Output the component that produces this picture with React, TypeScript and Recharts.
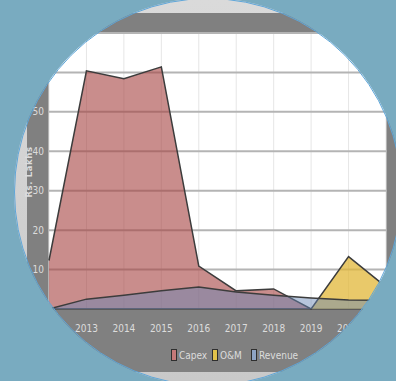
import React from 'react';
import { AreaChart, Area, XAxis, YAxis, CartesianGrid } from 'recharts';

const years = ['2012', '2013', '2014', '2015', '2016', '2017', '2018', '2019', '2020', '2021'];
const capex = [12.3, 60.4, 58.4, 61.4, 10.9, 4.6, 5.1, 0, 0, 0];
const oandm = [0, 0, 0, 0, 0, 0, 0, 0, 13.3, 5.6];
const revenue = [0, 2.5, 3.5, 4.6, 5.6, 4.3, 3.5, 2.8, 2.3, 2.2];
const yTicks = [0, 10, 20, 30, 40, 50, 60, 70];

const data = years.map((year, i) => ({
  year,
  capex: capex[i],
  oandm: oandm[i],
  revenue: revenue[i],
}));

const narrow = "'Liberation Sans Narrow', 'DejaVu Sans Condensed', sans-serif";
const lightText = '#dcdcdc';
const lineColor = '#3c3c3c';

const legendItems = [
  { name: 'Capex', color: '#c47878', left: 171 },
  { name: 'O&M', color: '#e2c24a', left: 212 },
  { name: 'Revenue', color: '#8ea4c4', left: 251 },
];

const ChartLegend = () => (
  <>
    {legendItems.map((item) => (
      <div
        key={item.name}
        style={{
          position: 'absolute',
          left: item.left,
          top: 349,
          display: 'flex',
          alignItems: 'center',
          fontFamily: narrow,
          fontSize: 10,
          color: lightText,
          whiteSpace: 'nowrap',
        }}
      >
        <span style={{ display: 'inline-block', width: 4, height: 10, background: item.color, border: '1px solid #2e2e2e', marginRight: 2 }} />
        <span>{item.name}</span>
      </div>
    ))}
  </>
);

const YLabel = () => (
  <text
    x={29}
    y={172}
    transform="rotate(-90 29 172)"
    textAnchor="middle"
    dominantBaseline="central"
    fill={lightText}
    fontSize={8.5}
    fontWeight="bold"
    letterSpacing={0.6}
    fontFamily="'DejaVu Sans', sans-serif"
  >
    Rs. Lakhs
  </text>
);

export default function App() {
  return (
    <div style={{ position: 'fixed', left: 0, top: 0, width: 396, height: 381, overflow: 'hidden', background: '#79abc0' }}>
      {/* picture frame behind the chart */}
      <div style={{ position: 'absolute', left: 0, top: 0, width: 396, height: 381, background: 'linear-gradient(#dadada, #c9c9c9)' }} />
      <div style={{ position: 'absolute', left: 27, top: 13, width: 380, height: 359, background: '#808080' }} />

      <AreaChart
        width={396}
        height={381}
        data={data}
        margin={{ top: 33, right: 10, left: 0, bottom: 42 }}
        style={{ position: 'absolute', left: 0, top: 0 }}
      >
        <CartesianGrid vertical={false} horizontal={false} fill="#ffffff" />
        <CartesianGrid horizontal={false} stroke="#e6e6e6" strokeWidth={1} />
        <CartesianGrid vertical={false} stroke="#b4b4b4" strokeWidth={2} />
        <XAxis
          dataKey="year"
          height={30}
          axisLine={false}
          tickLine={false}
          tickSize={0}
          tickMargin={16}
          interval={0}
          tick={{ fill: lightText, fontSize: 10, fontFamily: narrow }}
        />
        <YAxis
          domain={[0, 70]}
          ticks={yTicks}
          width={49}
          axisLine={false}
          tickLine={false}
          tickSize={0}
          tickMargin={5}
          tick={{ fill: lightText, fontSize: 10, fontFamily: narrow }}
          label={{ content: () => <YLabel /> }}
        />
        <Area
          type="linear"
          dataKey="capex"
          name="Capex"
          stroke={lineColor}
          strokeWidth={1.5}
          fill="#a5413f"
          fillOpacity={0.6}
          isAnimationActive={false}
        />
        <Area
          type="linear"
          dataKey="oandm"
          name="O&M"
          stroke={lineColor}
          strokeWidth={1.5}
          fill="#e2b738"
          fillOpacity={0.75}
          isAnimationActive={false}
        />
        <Area
          type="linear"
          dataKey="revenue"
          name="Revenue"
          stroke={lineColor}
          strokeWidth={1.5}
          fill="#6786b5"
          fillOpacity={0.47}
          isAnimationActive={false}
        />
      </AreaChart>

      <ChartLegend />

      {/* circular crop */}
      <div
        style={{
          position: 'absolute',
          left: 14,
          top: -2,
          width: 388,
          height: 388,
          borderRadius: '50%',
          boxSizing: 'border-box',
          border: '1px solid #5ea6d9',
          boxShadow: '0 0 0 400px #79abc0',
          pointerEvents: 'none',
        }}
      />
    </div>
  );
}
